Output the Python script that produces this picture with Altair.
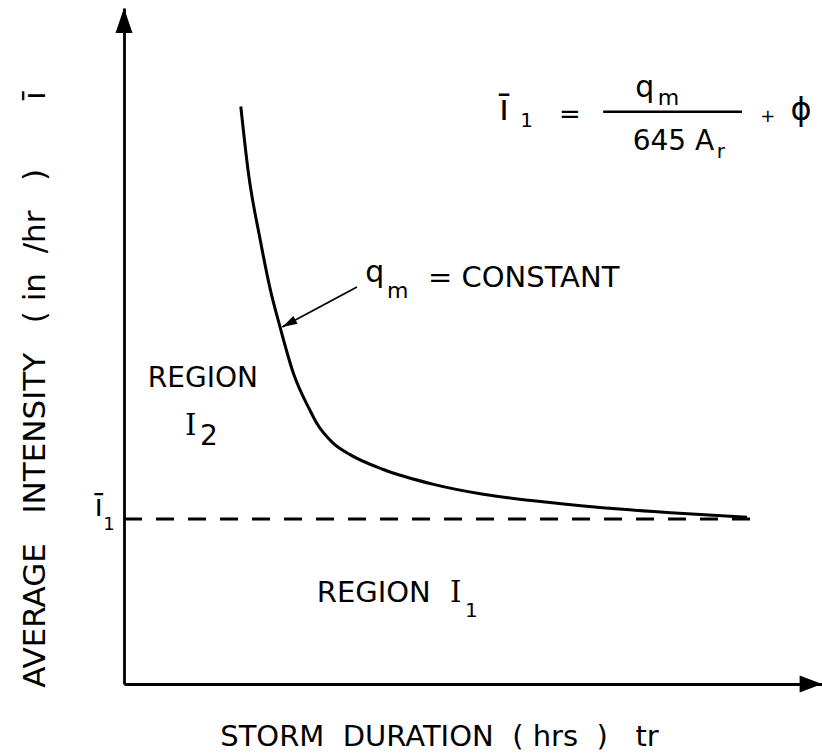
import altair as alt
import pandas as pd

# ---- data ----
# storm duration (arbitrary units) and average intensity (units of i1)
curve_t = [1.86, 1.98, 2.17, 2.33, 2.48, 2.70, 2.96, 3.07, 3.33, 3.60, 4.13, 4.93, 5.72, 6.52, 7.58, 8.64, 9.92]
curve_i = [3.50, 3.10, 2.69, 2.39, 2.17, 1.88, 1.66, 1.58, 1.46, 1.39, 1.30, 1.21, 1.15, 1.11, 1.07, 1.04, 1.01]

i1_level = 1.0          # threshold intensity i1
i1_end = 10.05          # extent of the dashed line

T_MAX = 11.115
I_MAX = 4.097

# annotation texts (label, t, i, font size)
ann_labels = ["REGION", "2", "REGION", "1", "q", "m", "= CONSTANT",
              "ī", "1", "q", "m", "645 A", "r", "ī", "1"]
ann_t = [0.38, 1.21, 3.07, 5.43, 3.84, 4.19, 4.84,
         5.97, 6.31, 8.14, 8.50, 8.10, 9.44, -0.47, -0.33]
ann_i = [1.80, 1.448, 0.497, 0.406, 2.436, 2.339, 2.406,
         3.418, 3.376, 3.558, 3.509, 3.236, 3.188, 1.018, 0.933]
ann_size = [28, 28, 29, 20, 30, 22, 29,
            36, 20, 30, 22, 28, 20, 30, 18]

serif_labels = ["I", "I"]
serif_t = [0.971, 5.19]
serif_i = [1.509, 0.497]

center_labels = ["=", "+", "ϕ"]
center_t = [7.10, 10.25, 10.78]
center_i = [3.448, 3.436, 3.48]
center_size = [26, 18, 32]

# fraction bar of the formula
frac_t = [7.63, 9.84]
frac_i = 3.468

# pointer arrow from "qm = CONSTANT" to the curve
ptr_t = [3.71, 2.52]
ptr_i = [2.406, 2.164]

FONT = "DejaVu Sans"
NB = "\u00a0"

x_title = ("STORM" + NB * 2 + "DURATION" + NB * 2 + "(" + NB + "hrs" + NB * 2 + ")"
           + NB * 3 + "tr")
y_title = ("AVERAGE" + NB * 3 + "INTENSITY" + NB * 3 + "(" + NB + "in" + NB * 2
           + "/hr" + NB * 3 + ")" + NB * 7 + "ī")

xs = alt.Scale(domain=[0, T_MAX], nice=False, zero=False)
ys = alt.Scale(domain=[0, I_MAX], nice=False, zero=False)

x_axis = alt.Axis(
    domain=True, domainColor="black", domainWidth=2.8, ticks=False,
    labels=False, grid=False, title=x_title,
    titleFont=FONT, titleFontSize=29, titleFontWeight="normal",
    titleColor="black", titleX=315, titleY=61, titleAlign="center",
    titleBaseline="alphabetic")
y_axis = alt.Axis(
    domain=True, domainColor="black", domainWidth=2.8, ticks=False,
    labels=False, grid=False, title=y_title,
    titleFont=FONT, titleFontSize=31, titleFontWeight="normal",
    titleColor="black", titleAngle=270, titleX=-80, titleY=381,
    titleAlign="center", titleBaseline="alphabetic")


def X(field="t"):
    return alt.X(f"{field}:Q", scale=xs, axis=x_axis)


def Y(field="i"):
    return alt.Y(f"{field}:Q", scale=ys, axis=y_axis)


curve_df = pd.DataFrame({"t": curve_t, "i": curve_i})
curve = alt.Chart(curve_df).mark_line(
    color="black", strokeWidth=3, interpolate="monotone"
).encode(x=X(), y=Y(), order="t:Q")

dash_df = pd.DataFrame({"t": [0.0], "t2": [i1_end], "i": [i1_level]})
dashed = alt.Chart(dash_df).mark_rule(
    color="black", strokeWidth=3, strokeDash=[18, 14]
).encode(x=X(), x2="t2:Q", y=Y())

# axis arrowheads (tip at the end of each axis)
yarrow_df = pd.DataFrame({"t": [0.0], "i": [I_MAX]})
yarrow = alt.Chart(yarrow_df).mark_point(
    shape="M0,0L0.68,2L-0.68,2Z", filled=True, color="black", opacity=1,
    size=625, strokeWidth=0
).encode(x=X(), y=Y())

xarrow_df = pd.DataFrame({"t": [T_MAX], "i": [0.0]})
xarrow = alt.Chart(xarrow_df).mark_point(
    shape="M0,0L-2,-0.76L-2,0.76Z", filled=True, color="black", opacity=1,
    size=500, strokeWidth=0
).encode(x=X(), y=Y())

# pointer arrow
ptr_df = pd.DataFrame({"t": ptr_t, "i": ptr_i, "o": [0, 1]})
pointer = alt.Chart(ptr_df).mark_line(color="black", strokeWidth=1.8).encode(
    x=X(), y=Y(), order="o:Q")
ptr_head_df = pd.DataFrame({"t": [ptr_t[1]], "i": [ptr_i[1]]})
ptr_head = alt.Chart(ptr_head_df).mark_point(
    shape="M0,0L0.6,2L-0.6,2Z", filled=True, color="black", opacity=1,
    size=225, strokeWidth=0, angle=242
).encode(x=X(), y=Y())

# fraction bar
frac_df = pd.DataFrame({"t": [frac_t[0]], "t2": [frac_t[1]], "i": [frac_i]})
frac = alt.Chart(frac_df).mark_rule(color="black", strokeWidth=2.5).encode(
    x=X(), x2="t2:Q", y=Y())

ann_df = pd.DataFrame({"label": ann_labels, "t": ann_t, "i": ann_i, "fs": ann_size})
ann = alt.Chart(ann_df).mark_text(
    font=FONT, color="black", align="left", baseline="alphabetic"
).encode(x=X(), y=Y(), text="label:N",
         size=alt.Size("fs:Q", scale=None, legend=None))

serif_df = pd.DataFrame({"label": serif_labels, "t": serif_t, "i": serif_i})
serif = alt.Chart(serif_df).mark_text(
    font="DejaVu Serif", fontSize=29, color="black", align="left",
    baseline="alphabetic"
).encode(x=X(), y=Y(), text="label:N")

center_df = pd.DataFrame({"label": center_labels, "t": center_t,
                          "i": center_i, "fs": center_size})
center = alt.Chart(center_df).mark_text(
    font=FONT, color="black", align="center", baseline="middle"
).encode(x=X(), y=Y(), text="label:N",
         size=alt.Size("fs:Q", scale=None, legend=None))

chart = alt.layer(
    curve, dashed, yarrow, xarrow, pointer, ptr_head, frac, ann, serif, center
).properties(
    width=698, height=676,
    padding={"left": 124, "top": 8, "right": 0, "bottom": 70},
    autosize=alt.AutoSizeParams(type="none"),
    background="white",
).configure_view(stroke=None)

chart.save("out.html", embed_options={"renderer": "svg", "actions": False})
